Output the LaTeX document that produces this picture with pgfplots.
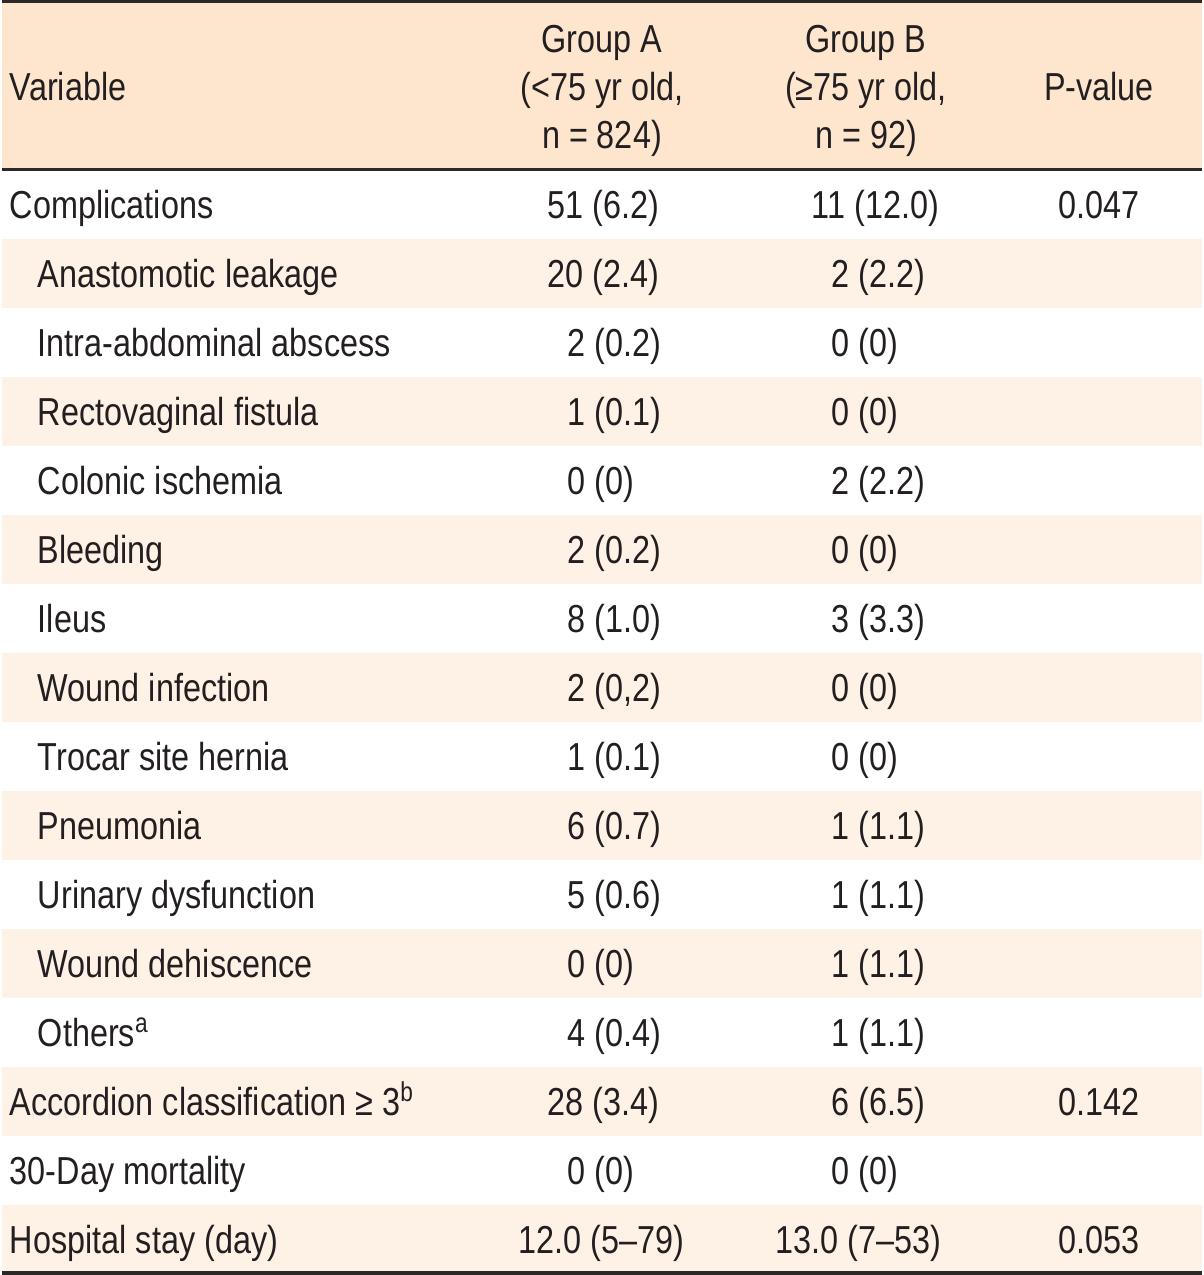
\documentclass[border=0pt]{standalone}
\usepackage{pgfplots}
\pgfplotsset{compat=1.18}
\usepackage{fontspec}
\setmainfont[FakeStretch=0.83]{Liberation Sans}
\definecolor{hdr}{RGB}{253,229,206}
\definecolor{stripe}{RGB}{254,242,230}
\definecolor{txt}{RGB}{35,31,32}
\definecolor{rulec}{RGB}{45,40,40}
\newcommand{\rb}[1]{\fpeval{218.5+69*#1}}
\tikzset{cell/.style={inner sep=0pt,outer sep=0pt,text=txt,font=\fontsize{11.1}{13}\selectfont}}
\begin{document}
\begin{tikzpicture}
\begin{axis}[width=12cm,height=12.75cm,scale only axis,xmin=0,xmax=1200,ymin=0,ymax=1275,
  y dir=reverse,hide axis,clip=false]
% header background
\addplot[fill=hdr,draw=none] coordinates {(0,0)(1200,0)(1200,169)(0,169)} --cycle;
% stripes
\addplot[fill=stripe,draw=none] coordinates {(0,239)(1200,239)(1200,308)(0,308)} --cycle;
\addplot[fill=stripe,draw=none] coordinates {(0,377)(1200,377)(1200,446)(0,446)} --cycle;
\addplot[fill=stripe,draw=none] coordinates {(0,515)(1200,515)(1200,584)(0,584)} --cycle;
\addplot[fill=stripe,draw=none] coordinates {(0,653)(1200,653)(1200,722)(0,722)} --cycle;
\addplot[fill=stripe,draw=none] coordinates {(0,791)(1200,791)(1200,860)(0,860)} --cycle;
\addplot[fill=stripe,draw=none] coordinates {(0,929)(1200,929)(1200,998)(0,998)} --cycle;
\addplot[fill=stripe,draw=none] coordinates {(0,1067)(1200,1067)(1200,1136)(0,1136)} --cycle;
\addplot[fill=stripe,draw=none] coordinates {(0,1205)(1200,1205)(1200,1274)(0,1274)} --cycle;
% rules
\addplot[rulec,line width=0.9pt] coordinates {(0,1.6)(1200,1.6)};
\addplot[rulec,line width=0.85pt] coordinates {(0,169.5)(1200,169.5)};
\addplot[rulec,line width=1.1pt] coordinates {(0,1273)(1200,1273)};
% header
\node[cell,anchor=base west] at (8,100) {Variable};
\node[cell,anchor=base] at (600,52) {Group A};
\node[cell,anchor=base] at (600,100) {(<75 yr old,};
\node[cell,anchor=base] at (600,148) {n = 824)};
\node[cell,anchor=base] at (864,52) {Group B};
\node[cell,anchor=base] at (864,100) {(≥75 yr old,};
\node[cell,anchor=base] at (864,148) {n = 92)};
\node[cell,anchor=base] at (1097,100) {P-value};
% rows: labels
\node[cell,anchor=base west] at (8,\rb{0}) {Complications};
\node[cell,anchor=base west] at (36,\rb{1}) {Anastomotic leakage};
\node[cell,anchor=base west] at (36,\rb{2}) {Intra-abdominal abscess};
\node[cell,anchor=base west] at (36,\rb{3}) {Rectovaginal fistula};
\node[cell,anchor=base west] at (36,\rb{4}) {Colonic ischemia};
\node[cell,anchor=base west] at (36,\rb{5}) {Bleeding};
\node[cell,anchor=base west] at (36,\rb{6}) {Ileus};
\node[cell,anchor=base west] at (36,\rb{7}) {Wound infection};
\node[cell,anchor=base west] at (36,\rb{8}) {Trocar site hernia};
\node[cell,anchor=base west] at (36,\rb{9}) {Pneumonia};
\node[cell,anchor=base west] at (36,\rb{10}) {Urinary dysfunction};
\node[cell,anchor=base west] at (36,\rb{11}) {Wound dehiscence};
\node[cell,anchor=base west] at (36,\rb{12}) {Others\textsuperscript{a}};
\node[cell,anchor=base west] at (8,\rb{13}) {Accordion classification ≥ 3\textsuperscript{b}};
\node[cell,anchor=base west] at (8,\rb{14}) {30-Day mortality};
\node[cell,anchor=base west] at (8,\rb{15}) {Hospital stay (day)};
% Group A
\node[cell,anchor=base west] at (546,\rb{0}) {51 (6.2)};
\node[cell,anchor=base west] at (546,\rb{1}) {20 (2.4)};
\node[cell,anchor=base west] at (566,\rb{2}) {2 (0.2)};
\node[cell,anchor=base west] at (566,\rb{3}) {1 (0.1)};
\node[cell,anchor=base west] at (566,\rb{4}) {0 (0)};
\node[cell,anchor=base west] at (566,\rb{5}) {2 (0.2)};
\node[cell,anchor=base west] at (566,\rb{6}) {8 (1.0)};
\node[cell,anchor=base west] at (566,\rb{7}) {2 (0,2)};
\node[cell,anchor=base west] at (566,\rb{8}) {1 (0.1)};
\node[cell,anchor=base west] at (566,\rb{9}) {6 (0.7)};
\node[cell,anchor=base west] at (566,\rb{10}) {5 (0.6)};
\node[cell,anchor=base west] at (566,\rb{11}) {0 (0)};
\node[cell,anchor=base west] at (566,\rb{12}) {4 (0.4)};
\node[cell,anchor=base west] at (546,\rb{13}) {28 (3.4)};
\node[cell,anchor=base west] at (566,\rb{14}) {0 (0)};
\node[cell,anchor=base west] at (517,\rb{15}) {12.0 (5–79)};
% Group B
\node[cell,anchor=base west] at (810,\rb{0}) {11 (12.0)};
\node[cell,anchor=base west] at (830,\rb{1}) {2 (2.2)};
\node[cell,anchor=base west] at (830,\rb{2}) {0 (0)};
\node[cell,anchor=base west] at (830,\rb{3}) {0 (0)};
\node[cell,anchor=base west] at (830,\rb{4}) {2 (2.2)};
\node[cell,anchor=base west] at (830,\rb{5}) {0 (0)};
\node[cell,anchor=base west] at (830,\rb{6}) {3 (3.3)};
\node[cell,anchor=base west] at (830,\rb{7}) {0 (0)};
\node[cell,anchor=base west] at (830,\rb{8}) {0 (0)};
\node[cell,anchor=base west] at (830,\rb{9}) {1 (1.1)};
\node[cell,anchor=base west] at (830,\rb{10}) {1 (1.1)};
\node[cell,anchor=base west] at (830,\rb{11}) {1 (1.1)};
\node[cell,anchor=base west] at (830,\rb{12}) {1 (1.1)};
\node[cell,anchor=base west] at (830,\rb{13}) {6 (6.5)};
\node[cell,anchor=base west] at (830,\rb{14}) {0 (0)};
\node[cell,anchor=base west] at (774,\rb{15}) {13.0 (7–53)};
% P-values
\node[cell,anchor=base] at (1097,\rb{0}) {0.047};
\node[cell,anchor=base] at (1097,\rb{13}) {0.142};
\node[cell,anchor=base] at (1097,\rb{15}) {0.053};
\end{axis}
\end{tikzpicture}
\end{document}
